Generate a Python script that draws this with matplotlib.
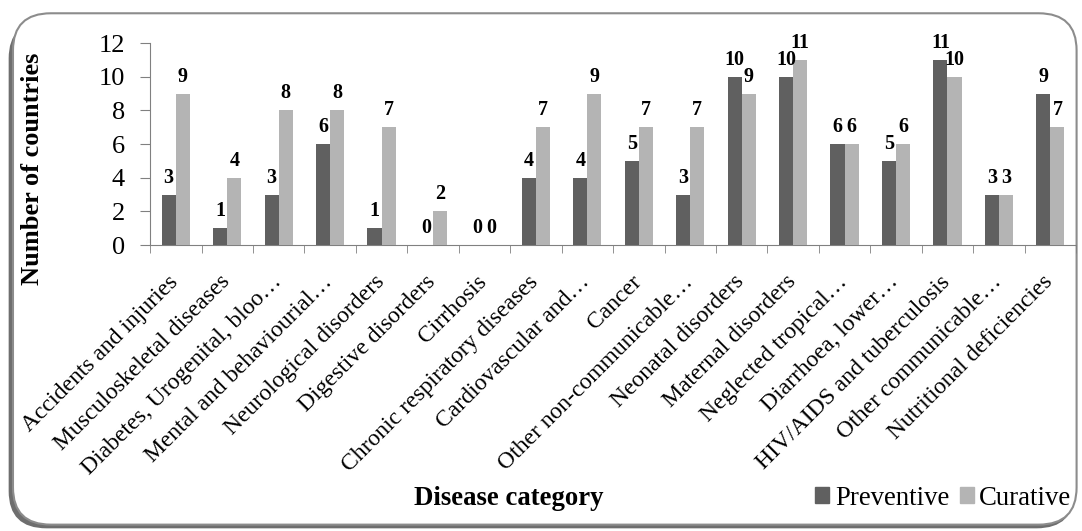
import matplotlib
matplotlib.use("Agg")
import matplotlib.pyplot as plt
from matplotlib.patches import FancyBboxPatch, Patch
import matplotlib.transforms as mtransforms
import numpy as np

plt.rcParams['font.family'] = ['Liberation Serif', 'DejaVu Serif']

categories = [
    "Accidents and injuries", "Musculoskeletal diseases", "Diabetes, Urogenital, bloo\u2026",
    "Mental and behaviourial\u2026", "Neurological disorders", "Digestive disorders",
    "Cirrhosis", "Chronic respiratory diseases", "Cardiovascular and\u2026", "Cancer",
    "Other non-communicable\u2026", "Neonatal disorders", "Maternal disorders",
    "Neglected tropical\u2026", "Diarrhoea, lower\u2026", "HIV/AIDS and tuberculosis",
    "Other communicable\u2026", "Nutritional deficiencies",
]
preventive = [3, 1, 3, 6, 1, 0, 0, 4, 4, 5, 3, 10, 10, 6, 5, 11, 3, 9]
curative = [9, 4, 8, 8, 7, 2, 0, 7, 9, 7, 7, 9, 11, 6, 6, 10, 3, 7]
yticks = [0, 2, 4, 6, 8, 10, 12]

DARK = "#606060"
LIGHT = "#b4b4b4"

fig = plt.figure(figsize=(10.82, 5.31), dpi=100)

# rounded frame with a shadow along the left and bottom
shadow = FancyBboxPatch((0.008, 0.005), 0.985, 0.955, boxstyle="round,pad=0,rounding_size=0.035",
                        transform=fig.transFigure, facecolor="#6e6e6e", edgecolor="none",
                        mutation_aspect=2.0, zorder=-2)
frame = FancyBboxPatch((0.012, 0.012), 0.983, 0.963, boxstyle="round,pad=0,rounding_size=0.035",
                       transform=fig.transFigure, facecolor="white", edgecolor="#8c8c8c",
                       linewidth=1.5, mutation_aspect=2.0, zorder=-1)
fig.patches.extend([shadow, frame])

ax = fig.add_axes([0.1387, 0.5386, 0.8558, 0.3804])
ax.set_facecolor("none")

x = np.arange(len(categories))
w = 0.275
b1 = ax.bar(x - w / 2, preventive, w, color=DARK, label="Preventive", zorder=3)
b2 = ax.bar(x + w / 2, curative, w, color=LIGHT, label="Curative", zorder=3)

for bars in (b1, b2):
    for r in bars:
        ax.annotate(f"{int(r.get_height())}", (r.get_x() + r.get_width() / 2, r.get_height()),
                    xytext=(0, 5), textcoords="offset points", ha="center", va="bottom",
                    fontsize=14.5, fontweight="bold")

ax.set_xlim(-0.5, len(categories) - 0.5)
ax.set_ylim(0, 12)
ax.set_yticks(yticks)
ax.tick_params(axis="y", labelsize=19, length=7, color="#808080", pad=11)

ax.set_xticks(x)
ax.set_xticklabels(categories, rotation=45, ha="right", rotation_mode="anchor", fontsize=17)
ax.set_xticks(np.arange(len(categories) + 1) - 0.5, minor=True)
ax.tick_params(axis="x", which="major", length=0, pad=19)
ax.tick_params(axis="x", which="minor", length=6, color="#808080")

# nudge the slanted labels a little to the left, like the original
shift = mtransforms.ScaledTranslation(-8 / 100, 0, fig.dpi_scale_trans)
for lab in ax.get_xticklabels():
    lab.set_transform(lab.get_transform() + shift)

for s in ("top", "right"):
    ax.spines[s].set_visible(False)
ax.spines["left"].set_color("#808080")
ax.spines["bottom"].set_color("#808080")

fig.text(0.030, 0.683, "Number of countries", rotation=90, ha="center", va="center",
         fontsize=19, fontweight="bold")
fig.text(0.470, 0.062, "Disease category", ha="center", va="center",
         fontsize=19.3, fontweight="bold")

handles = [Patch(color=DARK, label="Preventive"), Patch(color=LIGHT, label="Curative")]
fig.legend(handles=handles, loc="center right", bbox_to_anchor=(0.990, 0.062), ncol=2,
           frameon=False, fontsize=19.3, handlelength=0.52, handleheight=0.52,
           handletextpad=0.2, columnspacing=0.4, borderpad=0, borderaxespad=0)

fig.savefig("out.png", dpi=100)
